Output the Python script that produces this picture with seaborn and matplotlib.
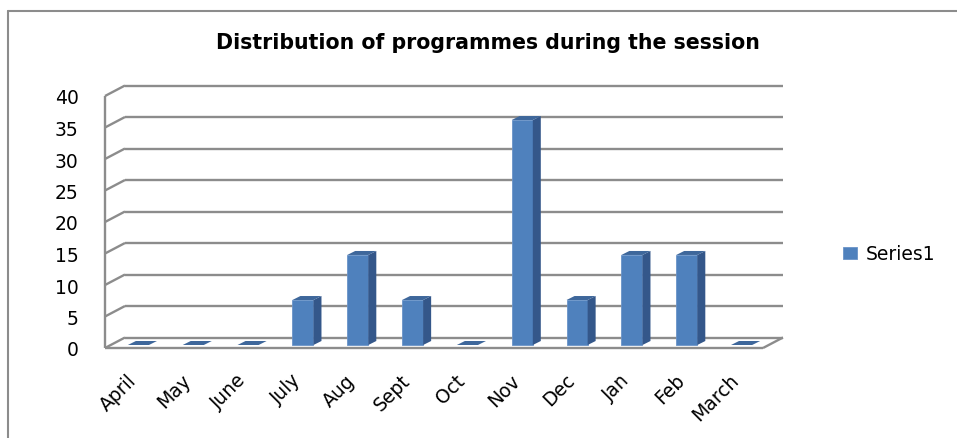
import matplotlib
matplotlib.use("Agg")
import matplotlib.pyplot as plt
import seaborn as sns
import numpy as np
import pandas as pd
from matplotlib.lines import Line2D
from matplotlib.patches import Polygon
from matplotlib.transforms import IdentityTransform, Affine2D

months = ["April", "May", "June", "July", "Aug", "Sept", "Oct", "Nov", "Dec", "Jan", "Feb", "March"]
values = [0, 0, 0, 7.14, 14.29, 7.14, 0, 35.71, 7.14, 14.29, 14.29, 0]
yticks = [0, 5, 10, 15, 20, 25, 30, 35, 40]
series_name = "Series1"
title = "Distribution of programmes during the session"

FRONT = "#4F81BD"
SIDE = "#34578A"
TOP = "#3E679B"
GRID = "#8C8C8C"

sns.set_theme(style="white")
plt.rcParams["font.family"] = ["DejaVu Sans"]
plt.rcParams["text.color"] = "black"

W, H = 957, 439
fig = plt.figure(figsize=(W / 100, H / 100), dpi=100)
ax = fig.add_axes([105 / W, (H - 349) / H, (763 - 105) / W, (349 - 97) / H])

df = pd.DataFrame({"month": months, "value": values})
sns.barplot(data=df, x="month", y="value", color=FRONT, saturation=1,
            width=0.385, ax=ax, label=series_name, zorder=3,
            edgecolor="#6A93C8", linewidth=0.6)
if ax.get_legend() is not None:
    ax.get_legend().remove()
ax.set_xlim(-0.5, len(months) - 0.5)
ax.set_ylim(0, 40)
for s in ax.spines.values():
    s.set_visible(False)
ax.set_xlabel("")
ax.set_ylabel("")

fig.canvas.draw()

# depth offsets in pixels
DX, DY = 20.0, 10.5
BFX, BFY = 6.0, 3.0      # bar front offset
BDX, BDY = 8.0, 4.0      # bar depth

T = ax.transData
ident = IdentityTransform()

def disp(x, y):
    return T.transform((x, y))

def line(p, q, **kw):
    ax.add_line(Line2D([p[0], q[0]], [p[1], q[1]], transform=ident, clip_on=False,
                       color=GRID, lw=1.7, solid_capstyle="butt", **kw))

x0, x1 = -0.5, len(months) - 0.5
for v in yticks:
    a = disp(x0, v)
    b = disp(x1, v)
    line(a + (DX, DY), b + (DX, DY), zorder=1)
    line(a, a + (DX, DY), zorder=1)
a0 = disp(x0, 0)
b0 = disp(x1, 0)
line(a0, b0, zorder=1)
line(b0, b0 + (DX, DY), zorder=1)
line(a0, disp(x0, 40), zorder=1)

# 3D faces for bars
for patch in ax.containers[0]:
    patch.set_transform(T + Affine2D().translate(BFX, BFY))
    patch.set_clip_on(False)
    px, w, h = patch.get_x(), patch.get_width(), patch.get_height()
    if h <= 0:
        patch.set_visible(False)
    br = disp(px + w, 0) + (BFX, BFY)
    tl = disp(px, h) + (BFX, BFY)
    tr = disp(px + w, h) + (BFX, BFY)
    off = np.array([BDX, BDY])
    if h > 0:
        ax.add_patch(Polygon([br, tr, tr + off, br + off], closed=True, transform=ident,
                             facecolor=SIDE, edgecolor="none", zorder=4, clip_on=False))
    ax.add_patch(Polygon([tl, tr, tr + off, tl + off], closed=True, transform=ident,
                         facecolor=TOP, edgecolor="none", zorder=4, clip_on=False))

ax.set_yticks(yticks)
ax.set_yticklabels([str(v) for v in yticks])
ax.tick_params(axis="y", length=0, pad=19, labelsize=13.5, labelcolor="black")
ax.set_xticks(range(len(months)))
ax.set_xticklabels(months, rotation=45, ha="right", va="top", rotation_mode="anchor")
ax.tick_params(axis="x", length=0, pad=16, labelsize=13.5, labelcolor="black")
for t in ax.get_xticklabels():
    t.set_transform(t.get_transform() + Affine2D().translate(-6, 0))

fig.text(488 / W, 1 - 43 / H, title, ha="center", va="center",
         fontsize=14.8, fontweight="bold", color="black")

handle = ax.containers[0][3]
leg = fig.legend([handle], [series_name], loc="center left",
                 bbox_to_anchor=(843 / W, 1 - 255 / H), bbox_transform=fig.transFigure,
                 frameon=False, fontsize=13.5, handlelength=0.75, handleheight=0.6,
                 handletextpad=0.45, borderpad=0, borderaxespad=0)
for txt in leg.get_texts():
    txt.set_color("black")

# outer frame
fig.add_artist(Line2D([8 / W, 8 / W], [0, 1 - 12 / H], transform=fig.transFigure,
                      color=GRID, lw=1.5))
fig.add_artist(Line2D([8 / W, 1.0], [1 - 12 / H, 1 - 12 / H], transform=fig.transFigure,
                      color=GRID, lw=1.5))

fig.savefig("out.png", dpi=100)
